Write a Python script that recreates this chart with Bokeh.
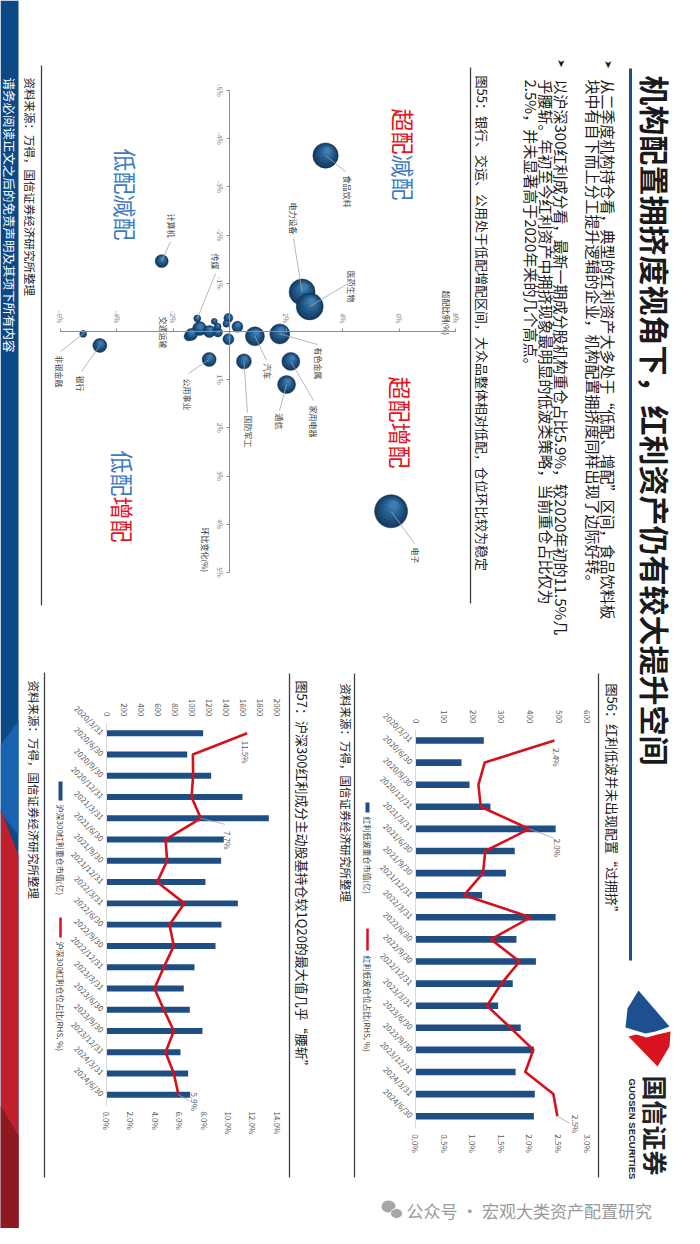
import math
from bokeh.plotting import figure
from bokeh.models import (Range1d, LinearAxis, FixedTicker, PrintfTickFormatter,
                          CustomJSTickFormatter, ColumnDataSource)
from bokeh.core.properties import value
from bokeh.embed import file_html
from bokeh.resources import INLINE

# ---------------------------------------------------------------- data
dates = ["2020/3/31", "2020/6/30", "2020/9/30", "2020/12/31",
         "2021/3/31", "2021/6/30", "2021/9/30", "2021/12/31",
         "2022/3/31", "2022/6/30", "2022/9/30", "2022/12/31",
         "2023/3/31", "2023/6/30", "2023/9/30", "2023/12/31",
         "2024/3/31", "2024/6/30"]
lowvol_mv = [239, 161, 189, 262, 490, 347, 316, 233, 490, 353, 421, 340,
             289, 368, 414, 350, 417, 414]
lowvol_share = [2.43, 1.21, 1.10, 1.14, 1.99, 1.22, 1.18, 0.85, 2.01, 1.32,
                1.82, 1.50, 1.25, 1.66, 2.06, 1.92, 2.41, 2.48]
hs300_mv = [1133, 946, 1227, 1594, 1903, 1375, 1344, 1160, 1540, 1348, 1278,
            1032, 906, 977, 1125, 867, 957, 981]
hs300_share = [11.53, 7.08, 7.10, 6.97, 7.73, 4.84, 4.97, 4.15, 6.39, 5.16,
               5.52, 4.70, 3.93, 4.70, 5.52, 4.84, 5.52, 5.90]
label_idx = [0, 4, 17]

industries = ["食品饮料", "电力设备", "医药生物", "计算机", "传媒", "交通运输",
              "非银金融", "银行", "公用事业", "国防军工", "汽车", "有色金属",
              "家用电器", "通信", "电子"]
over_ratio = [3.40, 2.57, 2.84, -2.40, -1.14, -1.35, -5.18, -4.59, -0.72,
              0.51, 0.90, 1.78, 2.17, 2.02, 5.72]
qoq_change = [-3.65, -0.82, -0.52, -1.46, -0.27, 0.06, 0.05, 0.29, 0.58,
              0.62, 0.10, 0.05, 0.62, 1.10, 3.73]
holding_size = [161, 169, 182, 42, 12, 36, 12, 49, 49, 56, 90, 100, 81, 81, 272]
other_ratio = [-1.45, -1.06, -0.71, -0.41, -0.42, -0.54, -0.04, -0.11, 0.28, -0.04]
other_change = [0.10, -0.06, 0.00, 0.02, -0.10, -0.21, -0.28, -0.16, -0.10, 0.16]
other_size = [20, 49, 36, 20, 12, 9, 20, 12, 30, 30]

# ---------------------------------------------------------------- layout
W, H = 684, 1228
PX0, PX1, PY0, PY1 = 0, 684, 0, 1228
CJK = "Noto Sans CJK SC"
BAR = "#1f4e85"
RED = "#d3121d"
QRED, QBLUE = "#e3141e", "#3f7cbf"
TXT = "#1a1a1a"

SCX0, SCKX, SCY0, SCKY = 229, 28.25, 331, 48.2          # scatter
C6X0, C6KV, C6KP, C6Y0, C6KY = 415, 0.286, 57.2, 740, 22.1   # chart 56
C7X0, C7KV, C7KP, C7Y0, C7KY = 106, 0.0853, 12.2, 732.7, 21.27  # chart 57


def xr(x0, k):
    return Range1d(start=(PX0 - x0) / k, end=(PX1 - x0) / k)


def yr(y0, k):
    return Range1d(start=(PY1 - y0) / k, end=(PY0 - y0) / k)


p = figure(width=W, height=H, x_range=Range1d(PX0, PX1), y_range=Range1d(PY1, PY0),
           x_axis_type=None, y_axis_type=None, toolbar_location=None,
           output_backend="svg", min_border=0, outline_line_color=None,
           background_fill_color="white", border_fill_color="white")
p.extra_x_ranges = {"sx": xr(SCX0, SCKX), "v56": xr(C6X0, C6KV), "p56": xr(C6X0, C6KP),
                    "v57": xr(C7X0, C7KV), "p57": xr(C7X0, C7KP)}
p.extra_y_ranges = {"sy": yr(SCY0, SCKY), "c56": yr(C6Y0, C6KY), "c57": yr(C7Y0, C7KY)}


def vtext(x, y, s, size, color=TXT, bold=False, align="left", font=CJK, **kw):
    p.text(x=[x], y=[y], text=[s], angle=-math.pi / 2, text_align=align,
           text_baseline="middle", text_font=value(font), text_font_size=f"{size}px",
           text_color=color, text_font_style="bold" if bold else "normal", **kw)


def seg(x0, y0, x1, y1, color="#404040", width=1.3, **kw):
    p.segment(x0=[x0], y0=[y0], x1=[x1], y1=[y1], line_color=color, line_width=width, **kw)


# ---------------------------------------------------------------- left strip
p.quad(left=0, right=18, top=0, bottom=1228, fill_color="#0b4a86", line_color=None)
p.patch([0, 18, 18, 0], [745, 720, 835, 812], fill_color="#1862b0", line_color=None)
p.patch([0, 18, 18, 0], [808, 855, 1228, 1228], fill_color="#c0202b", line_color=None)
p.patch([0, 18, 18, 0], [1105, 1135, 1228, 1228], fill_color="#8d1a21", line_color=None)
vtext(9, 77, "请务必阅读正文之后的免责声明及其项下所有内容", 12.5, color="white")

# ---------------------------------------------------------------- title & text
p.segment(x0=[630], y0=[68], x1=[630], y1=[960], line_color="#1f4e8c", line_width=3)
vtext(655, 75, "机构配置拥挤度视角下，红利资产仍有较大提升空间", 30, bold=True)
vtext(608, 64, "➤", 10, font="DejaVu Sans", align="center")
vtext(561, 63, "➤", 10, font="DejaVu Sans", align="center")
bullets = [(608, "从二季度机构持仓看，典型的红利资产大多处于“低配、增配”区间，食品饮料板"),
           (593, "块中有自下而上分工提升逻辑的企业，机构配置拥挤度同样出现了边际好转。"),
           (561, "以沪深300红利成分看，最新一期成分股机构重仓占比5.9%，较2020年初的11.5%几"),
           (546, "乎腰斩。年初至今红利资产中拥挤现象最明显的低波类策略，当前重仓占比仅为"),
           (531, "2.5%，并未显著高于2020年来的几个高点。")]
for bx, s in bullets:
    vtext(bx, 79, s, 15)

SRC = "资料来源：万得，国信证券经济研究所整理"
vtext(482, 75, "图55：银行、交运、公用处于低配增配区间，大众品整体相对低配，仓位环比较为稳定", 13)
seg(470, 67, 470, 603)
vtext(29, 77, SRC, 11.5)
seg(41, 65, 41, 605)

vtext(612, 683, "图56：红利低波并未出现配置“过拥挤”", 13)
seg(598, 673, 598, 1177)
vtext(345, 683, SRC, 11.5)
seg(354, 673, 354, 1177)

vtext(302, 680, "图57：沪深300红利成分主动股基持仓较1Q20的最大值几乎“腰斩”", 13)
seg(289, 673, 289, 1177)
vtext(33, 680, SRC, 11.5)
seg(44, 672, 44, 1177)

# ---------------------------------------------------------------- logo & watermark
p.patch([638, 669, 664, 655, 645, 635, 625, 627], [990, 1026, 1028, 1031, 1033, 1030, 1027, 1008],
        fill_color="#1d4f91", line_color=None)
p.patch([670, 669, 657, 628, 636, 646, 657], [1031, 1046, 1066, 1036, 1034, 1037, 1034],
        fill_color="#d7141f", line_color=None)
vtext(655, 1075, "国信证券", 25, color="#222222", bold=True)
vtext(632, 1078, "GUOSEN SECURITIES", 9.5, color="#222222", bold=True, font="Liberation Sans")
p.ellipse(x=[388, 396], y=[1206, 1213], width=[15, 12], height=[13, 10],
          fill_color="#a6a6a6", line_color="white", line_width=1)
p.text(x=[406], y=[1210], text=["公众号 · 宏观大类资产配置研究"], text_font=value(CJK),
       text_font_size="17px", text_color="#9a9a9a", text_baseline="middle")

# ---------------------------------------------------------------- scatter (图55)
def axis_style(ax, size="7px", color="#7f7f7f"):
    ax.major_label_text_font = CJK
    ax.major_label_text_font_size = size
    ax.major_label_text_color = color
    ax.minor_tick_line_color = None
    ax.axis_label = None


ax_r = LinearAxis(x_range_name="sx", y_range_name="sy", fixed_location=0, bounds=(-6, 8),
                  ticker=FixedTicker(ticks=[-6, -4, -2, 0, 2, 4, 6, 8]),
                  formatter=CustomJSTickFormatter(code="return tick == 0 ? '' : tick + '%';"))
axis_style(ax_r)
ax_r.axis_line_color = "#8c8c8c"
ax_r.major_tick_line_color = "#8c8c8c"
ax_r.major_tick_out = 3
ax_r.major_tick_in = 0
ax_r.major_label_standoff = 5
ax_r.major_label_orientation = -math.pi / 2
p.add_layout(ax_r, "above")

ax_c = LinearAxis(x_range_name="sx", y_range_name="sy", fixed_location=0, bounds=(-5, 5),
                  ticker=FixedTicker(ticks=list(range(-5, 6))),
                  formatter=CustomJSTickFormatter(code="return tick == 0 ? '' : tick + '%';"))
axis_style(ax_c)
ax_c.axis_line_color = "#8c8c8c"
ax_c.major_tick_line_color = "#8c8c8c"
ax_c.major_tick_out = 0
ax_c.major_tick_in = 3
ax_c.major_label_standoff = -15
ax_c.major_label_orientation = "parallel"
p.add_layout(ax_c, "right")

vtext(446, 290, "超配比例(%)", 8, color="#333333")
vtext(205, 527, "环比变化(%)", 8, color="#333333")


def quad_label(x, y, parts, size=23):
    yy = y
    for s, col in parts:
        vtext(x, yy, s, size, color=col)
        yy += size * len(s)


quad_label(403, 108, [("超配", QRED), ("减配", QBLUE)])
quad_label(125, 148, [("低配减配", QBLUE)])
quad_label(400, 376, [("超配增配", QRED)])
quad_label(122, 450, [("低配", QBLUE), ("增配", QRED)])

# bubbles with a soft highlight (stacked circles)
layers = [(1.00, "#163d63"), (0.86, "#1b4873"), (0.72, "#215482"), (0.57, "#286191"),
          (0.42, "#316e9f"), (0.27, "#3f7dae")]
bx, by, bs, bc, bla = [], [], [], [], []
for r, c, w in zip(other_ratio + over_ratio, other_change + qoq_change, other_size + holding_size):
    d = 2 * math.sqrt(w)
    for frac, col in layers:
        off = (1 - frac) * d / 2 * 0.5
        bx.append(r + 0.4 * off / SCKX)
        by.append(c - off / SCKY)
        bs.append(d * frac)
        bc.append(col)
        bla.append(0.8 if frac == 1.0 else 0.0)
p.scatter(x="x", y="y", size="s", fill_color="c", line_color="#0f2f50", line_alpha="la",
          line_width=0.6, source=ColumnDataSource(dict(x=bx, y=by, s=bs, c=bc, la=bla)),
          x_range_name="sx", y_range_name="sy")

label_pos = {"食品饮料": (347, 175), "电力设备": (293, 202), "医药生物": (351, 270),
             "计算机": (171, 213), "传媒": (215, 253), "交通运输": (163, 316),
             "非银金融": (59, 355), "银行": (80, 375), "公用事业": (187, 378),
             "国防军工": (248, 415), "汽车": (267, 363), "有色金属": (318, 347),
             "家用电器": (313, 405), "通信": (279, 413), "电子": (415, 547)}
leader_end = {"食品饮料": (345, 171), "电力设备": (293, 238), "医药生物": (346, 284),
              "计算机": (170, 241), "传媒": (215, 273), "非银金融": (60, 351),
              "银行": (81, 371), "公用事业": (188, 373), "国防军工": (247, 412),
              "汽车": (266, 360), "有色金属": (317, 344), "家用电器": (313, 400),
              "通信": (279, 410), "电子": (414, 543)}
lx0, ly0, lx1, ly1 = [], [], [], []
for name, r, c in zip(industries, over_ratio, qoq_change):
    if name in leader_end:
        ex, ey = leader_end[name]
        lx0.append(r); ly0.append(c)
        lx1.append((ex - SCX0) / SCKX); ly1.append((ey - SCY0) / SCKY)
p.segment(x0=lx0, y0=ly0, x1=lx1, y1=ly1, line_color="#a6a6a6", line_width=0.8,
          x_range_name="sx", y_range_name="sy")
for name in industries:
    x, y = label_pos[name]
    vtext(x, y, name, 8, color="#3f3f3f")


# ---------------------------------------------------------------- bar charts
def bar_chart(tag, mv, share, kp, ky, vticks, pticks, bar_h,
              vloc, ploc, lab_offsets, leader_offsets):
    idx = list(range(len(dates)))
    src = ColumnDataSource(dict(y=idx, mv=mv, share=share))
    vr, pr, cr = "v" + tag, "p" + tag, "c" + tag
    p.hbar(y="y", left=0, right="mv", height=bar_h, source=src, fill_color=BAR,
           line_color=None, x_range_name=vr, y_range_name=cr)
    p.line(x="share", y="y", source=src, line_color=RED, line_width=2.6,
           line_join="round", x_range_name=pr, y_range_name=cr)

    ax_v = LinearAxis(x_range_name=vr, y_range_name=cr, fixed_location=vloc,
                      bounds=(vticks[0], vticks[-1]), ticker=FixedTicker(ticks=vticks))
    axis_style(ax_v, "8px", "#595959")
    ax_v.axis_line_color = None
    ax_v.major_tick_line_color = None
    ax_v.major_tick_out = 0
    ax_v.major_label_standoff = 5
    ax_v.major_label_orientation = -math.pi / 2
    p.add_layout(ax_v, "above")

    ax_d = LinearAxis(x_range_name=vr, y_range_name=cr, fixed_location=0,
                      bounds=(-0.5, len(dates) - 0.5), ticker=FixedTicker(ticks=idx),
                      major_label_overrides={i: d for i, d in enumerate(dates)})
    axis_style(ax_d, "8px", "#595959")
    ax_d.axis_line_color = "#d9d9d9"
    ax_d.major_tick_line_color = None
    ax_d.major_tick_out = 0
    ax_d.major_label_standoff = 4
    ax_d.major_label_orientation = -math.pi / 4
    p.add_layout(ax_d, "left")

    ax_p = LinearAxis(x_range_name=pr, y_range_name=cr, fixed_location=ploc,
                      bounds=(pticks[0], pticks[-1]), ticker=FixedTicker(ticks=pticks),
                      formatter=PrintfTickFormatter(format="%.1f%%"))
    axis_style(ax_p, "8px", "#595959")
    ax_p.axis_line_color = None
    ax_p.major_tick_line_color = None
    ax_p.major_tick_out = 0
    ax_p.major_label_standoff = 6
    ax_p.major_label_orientation = -math.pi / 2
    p.add_layout(ax_p, "below")

    for i, (dx, dy), lo in zip(label_idx, lab_offsets, leader_offsets):
        p.text(x=[share[i]], y=[i], text=[f"{share[i]:.1f}%"], x_offset=dx, y_offset=dy,
               angle=-math.pi / 2, text_align="center", text_baseline="middle",
               text_font=value(CJK), text_font_size="8px", text_color="#595959",
               x_range_name=pr, y_range_name=cr)
        if lo is not None:
            p.segment(x0=[share[i]], y0=[i], x1=[share[i] + lo[0] / kp], y1=[i + lo[1] / ky],
                      line_color="#a6a6a6", line_width=0.8, x_range_name=pr, y_range_name=cr)


bar_chart("56", lowvol_mv, lowvol_share, C6KP, C6KY,
          [0, 100, 200, 300, 400, 500, 600], [0, 0.5, 1.0, 1.5, 2.0, 2.5, 3.0], 0.30,
          -0.55, 17.55, [(2, 17), (28, 19), (18, 8)], [None, (24, 9), (12, 7)])
bar_chart("57", hs300_mv, hs300_share, C7KP, C7KY,
          list(range(0, 2001, 200)), list(range(0, 15, 2)), 0.28,
          -0.55, 17.5, [(-2, 19), (27, 22), (16, 7)], [None, (24, 6), (11, 6)])

# legends
p.quad(left=[365], right=[369], top=[802], bottom=[812], fill_color=BAR, line_color=None)
vtext(367, 816, "红利低波重仓市值(亿)", 8, color="#404040")
seg(367, 928, 367, 950, color=RED, width=2.5)
vtext(367, 955, "红利低波仓位占比(RHS, %)", 8, color="#404040")
p.quad(left=[58], right=[62], top=[781], bottom=[800], fill_color=BAR, line_color=None)
vtext(60, 804, "沪深300红利重仓市值(亿)", 8, color="#404040")
seg(60, 917, 60, 937, color=RED, width=2.5)
vtext(60, 941, "沪深300红利仓位占比(RHS, %)", 8, color="#404040")

open("out.html", "w").write(file_html(p, INLINE))
